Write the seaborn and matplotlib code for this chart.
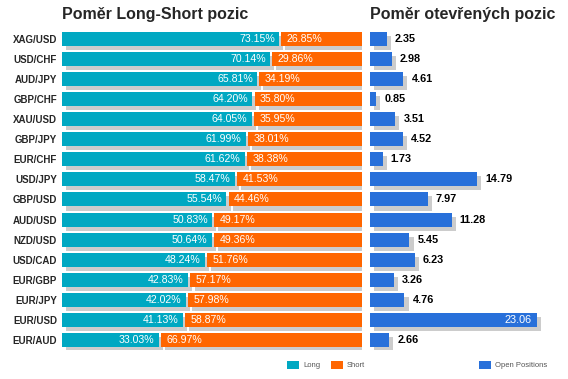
import matplotlib
matplotlib.use("Agg")
import matplotlib.pyplot as plt
import matplotlib.patheffects as pe
from matplotlib.patches import Patch
import seaborn as sns
import pandas as pd

pairs = ["XAG/USD", "USD/CHF", "AUD/JPY", "GBP/CHF", "XAU/USD", "GBP/JPY", "EUR/CHF", "USD/JPY",
         "GBP/USD", "AUD/USD", "NZD/USD", "USD/CAD", "EUR/GBP", "EUR/JPY", "EUR/USD", "EUR/AUD"]
long_pct = [73.15, 70.14, 65.81, 64.20, 64.05, 61.99, 61.62, 58.47,
            55.54, 50.83, 50.64, 48.24, 42.83, 42.02, 41.13, 33.03]
short_pct = [26.85, 29.86, 34.19, 35.80, 35.95, 38.01, 38.38, 41.53,
             44.46, 49.17, 49.36, 51.76, 57.17, 57.98, 58.87, 66.97]
open_pos = [2.35, 2.98, 4.61, 0.85, 3.51, 4.52, 1.73, 14.79,
            7.97, 11.28, 5.45, 6.23, 3.26, 4.76, 23.06, 2.66]

df = pd.DataFrame({"pair": pairs, "long": long_pct, "short": short_pct, "open": open_pos})

teal = "#00a8c2"
orange = "#ff6600"
blue = "#2870da"
shadow = [pe.SimplePatchShadow(offset=(2.9, -2.9), shadow_rgbFace="#cccccc", alpha=1.0), pe.Normal()]

sns.set_style("white")
plt.rcParams["font.family"] = ["Liberation Sans", "DejaVu Sans"]

fig = plt.figure(figsize=(5.68, 3.79), dpi=100)
ax = fig.add_axes([0.1092, 0.076, 0.528, 0.8485])
ax2 = fig.add_axes([0.6514, 0.076, 0.319, 0.8485])

# -------------------------------
# Long / Short
# -------------------------------
sns.barplot(data=df, x="long", y="pair", ax=ax, color=teal, saturation=1, width=0.7, linewidth=0)
for p in ax.patches:
    p.set_width(p.get_width() - 0.7)
    p.set_path_effects(shadow)
bars = ax.barh(range(len(pairs)), df["short"], left=df["long"], height=0.7, color=orange, linewidth=0)
for p in bars:
    p.set_path_effects(shadow)

for i, (l, s) in enumerate(zip(long_pct, short_pct)):
    ax.text(l - 2.2, i, f"{l:.2f}%", ha="right", va="center", color="white", fontsize=7.6)
    ax.text(l + 1.8, i, f"{s:.2f}%", ha="left", va="center", color="white", fontsize=7.6)

ax.set_xlim(0, 100)
ax.set_ylim(15.5, -0.5)
ax.set_xticks([])
ax.set_xlabel("")
ax.set_ylabel("")
ax.tick_params(axis="y", length=0, pad=3.6)
for lab in ax.get_yticklabels():
    lab.set_fontweight("bold")
    lab.set_fontsize(7)
sns.despine(ax=ax, left=True, bottom=True)
ax.set_title("Poměr Long-Short pozic", loc="left", fontsize=11.5, fontweight="bold", pad=7)

# -------------------------------
# Open positions
# -------------------------------
sns.barplot(data=df, x="open", y="pair", ax=ax2, color=blue, saturation=1, width=0.7, linewidth=0)
for p in ax2.patches:
    p.set_path_effects(shadow)
for i, v in enumerate(open_pos):
    if v > 20:
        ax2.text(v - 0.7, i, f"{v:.2f}", ha="right", va="center", color="white", fontsize=7.8)
    else:
        ax2.text(v + 1.1, i, f"{v:.2f}", ha="left", va="center", color="black",
                 fontsize=7.8, fontweight="bold")
ax2.set_xlim(0, 25)
ax2.set_ylim(15.5, -0.5)
ax2.set_xticks([])
ax2.set_yticks([])
ax2.set_xlabel("")
ax2.set_ylabel("")
sns.despine(ax=ax2, left=True, bottom=True)
ax2.set_title("Poměr otevřených pozic", loc="left", fontsize=11.5, fontweight="bold", pad=7)

# Legends
leg_kw = dict(frameon=False, fontsize=5.5, handlelength=1.6, handleheight=1.3,
              handletextpad=0.5, columnspacing=1.4, borderpad=0, borderaxespad=0,
              labelcolor="#555555", loc="center left")
fig.legend(handles=[Patch(color=teal, label="Long", linewidth=0), Patch(color=orange, label="Short", linewidth=0)],
           ncol=2, bbox_to_anchor=(287 / 568, 1 - 365 / 379), **leg_kw)
fig.legend(handles=[Patch(color=blue, label="Open Positions", linewidth=0)],
           bbox_to_anchor=(479 / 568, 1 - 365 / 379), **leg_kw)

fig.savefig("out.png", dpi=100)
